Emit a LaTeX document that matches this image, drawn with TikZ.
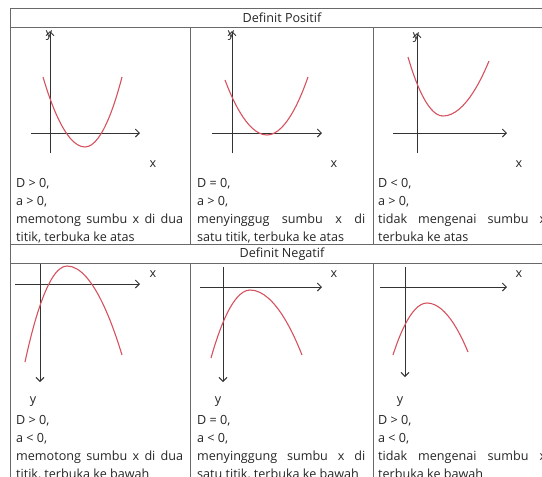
\documentclass[tikz,border=0pt]{standalone}
\usepackage{fontspec}
\setmainfont{Open Sans}
\usetikzlibrary{arrows.meta}
\definecolor{curvered}{RGB}{214,82,94}
\definecolor{gridgray}{RGB}{105,105,105}
\begin{document}
\begin{tikzpicture}[x=1pt,y=-1pt,
  grid/.style={draw=gridgray, line width=0.9pt},
  axis/.style={draw=black!80, line width=0.9pt, -{Straight Barb[length=4pt,width=8pt]}},
  curve/.style={draw=curvered, line width=1.1pt},
  txt/.style={inner sep=0pt, anchor=base west, font=\fontsize{12.6}{14}\selectfont, text=black!85},
  hdr/.style={inner sep=0pt, font=\fontsize{12.6}{14}\selectfont, text=black!85},
  axlbl/.style={inner sep=0pt, font=\fontsize{12.6}{14}\selectfont, text=black!85}]
\useasboundingbox (0,0) rectangle (542,477);
\clip (0,0) rectangle (542,477);
\fill[white] (0,0) rectangle (542,477);
% table
\draw[grid] (10,8) rectangle (556,500);
\draw[grid] (10,27) -- (556,27);
\draw[grid] (10,244) -- (556,244);
\draw[grid] (10,263) -- (556,263);
\draw[grid] (190,27) -- (190,244);
\draw[grid] (373,27) -- (373,244);
\draw[grid] (190,263) -- (190,500);
\draw[grid] (373,263) -- (373,500);
% headers
\node[hdr] (h1) at (282,18) {Definit Positif};
\node[hdr] (h2) at (282,254) {Definit Negatif};
% ---- Definit Positif, panel 1
\node[axlbl] (y1) at (49,36) {y};
\coordinate (a1b) at (50,153); \coordinate (a1t) at (50,31);
\coordinate (a1l) at (31,133); \coordinate (a1r) at (140,133);
\draw[axis] (a1b) -- (a1t);
\draw[axis] (a1l) -- (a1r);
\draw[curve] (43,77) parabola bend (85,147) (122,77);
\node[axlbl] (x1) at (153,164) {x};
\node[txt] (t11) at (16,187) {D > 0,};
\node[txt] (t12) at (16,205) {a > 0,};
\node[txt] (t13) at (16,223) {\makebox[167pt][s]{memotong sumbu x di dua}};
\node[txt] (t14) at (16,241) {titik, terbuka ke atas};
% ---- panel 2
\node[axlbl] (y2) at (231,36) {y};
\coordinate (a2b) at (232,153); \coordinate (a2t) at (232,31);
\coordinate (a2l) at (212,133); \coordinate (a2r) at (322,133);
\draw[axis] (a2b) -- (a2t);
\draw[axis] (a2l) -- (a2r);
\draw[curve] (225,80) parabola bend (267,135) (308,77);
\node[axlbl] (x2) at (334,164) {x};
\node[txt] (t21) at (197,187) {D = 0,};
\node[txt] (t22) at (197,205) {a > 0,};
\node[txt] (t23) at (197,223) {\makebox[168pt][s]{menyinggug sumbu x di}};
\node[txt] (t24) at (197,241) {satu titik, terbuka ke atas};
% ---- panel 3
\node[axlbl] (y3) at (416,38) {y};
\coordinate (a3b) at (417,153); \coordinate (a3t) at (417,33);
\coordinate (a3l) at (393,133); \coordinate (a3r) at (507,133);
\draw[axis] (a3b) -- (a3t);
\draw[axis] (a3l) -- (a3r);
\draw[curve] (408,57) parabola bend (443,116) (489,61);
\node[axlbl] (x3) at (519,164) {x};
\node[txt] (t31) at (378,187) {D < 0,};
\node[txt] (t32) at (378,205) {a > 0,};
\node[txt] (t33) at (378,223) {\makebox[168pt][s]{tidak mengenai sumbu x}};
\node[txt] (t34) at (378,241) {terbuka ke atas};
% ---- Definit Negatif, panel 1
\coordinate (b1t) at (40,264); \coordinate (b1b) at (40,382);
\coordinate (b1l) at (15,284); \coordinate (b1r) at (140,284);
\draw[axis] (b1t) -- (b1b);
\draw[axis] (b1l) -- (b1r);
\draw[curve] (25,362) parabola bend (67,266) (122,355);
\node[axlbl] (x4) at (153,274) {x};
\node[axlbl] (y4) at (33,402) {y};
\node[txt] (t41) at (16,424) {D > 0,};
\node[txt] (t42) at (16,442) {a < 0,};
\node[txt] (t43) at (16,460) {\makebox[167pt][s]{memotong sumbu x di dua}};
\node[txt] (t44) at (16,478) {titik, terbuka ke bawah};
% ---- panel 2
\coordinate (b2t) at (223,267); \coordinate (b2b) at (223,382);
\coordinate (b2l) at (200,287); \coordinate (b2r) at (322,287);
\draw[axis] (b2t) -- (b2b);
\draw[axis] (b2l) -- (b2r);
\draw[curve] (211,358) parabola bend (250,290) (302,355);
\node[axlbl] (x5) at (334,274) {x};
\node[axlbl] (y5) at (218,402) {y};
\node[txt] (t51) at (197,424) {D = 0,};
\node[txt] (t52) at (197,442) {a < 0,};
\node[txt] (t53) at (197,460) {\makebox[168pt][s]{menyinggung sumbu x di}};
\node[txt] (t54) at (197,478) {satu titik, terbuka ke bawah};
% ---- panel 3
\coordinate (b3t) at (405,267); \coordinate (b3b) at (405,377);
\coordinate (b3l) at (380,287); \coordinate (b3r) at (507,287);
\draw[axis] (b3t) -- (b3b);
\draw[axis] (b3l) -- (b3r);
\draw[curve] (393,355) parabola bend (427,303) (468,352);
\node[axlbl] (x6) at (519,274) {x};
\node[axlbl] (y6) at (400,402) {y};
\node[txt] (t61) at (378,424) {D > 0,};
\node[txt] (t62) at (378,442) {a < 0,};
\node[txt] (t63) at (378,460) {\makebox[168pt][s]{tidak mengenai sumbu x}};
\node[txt] (t64) at (378,478) {terbuka ke bawah};
\end{tikzpicture}
\end{document}
